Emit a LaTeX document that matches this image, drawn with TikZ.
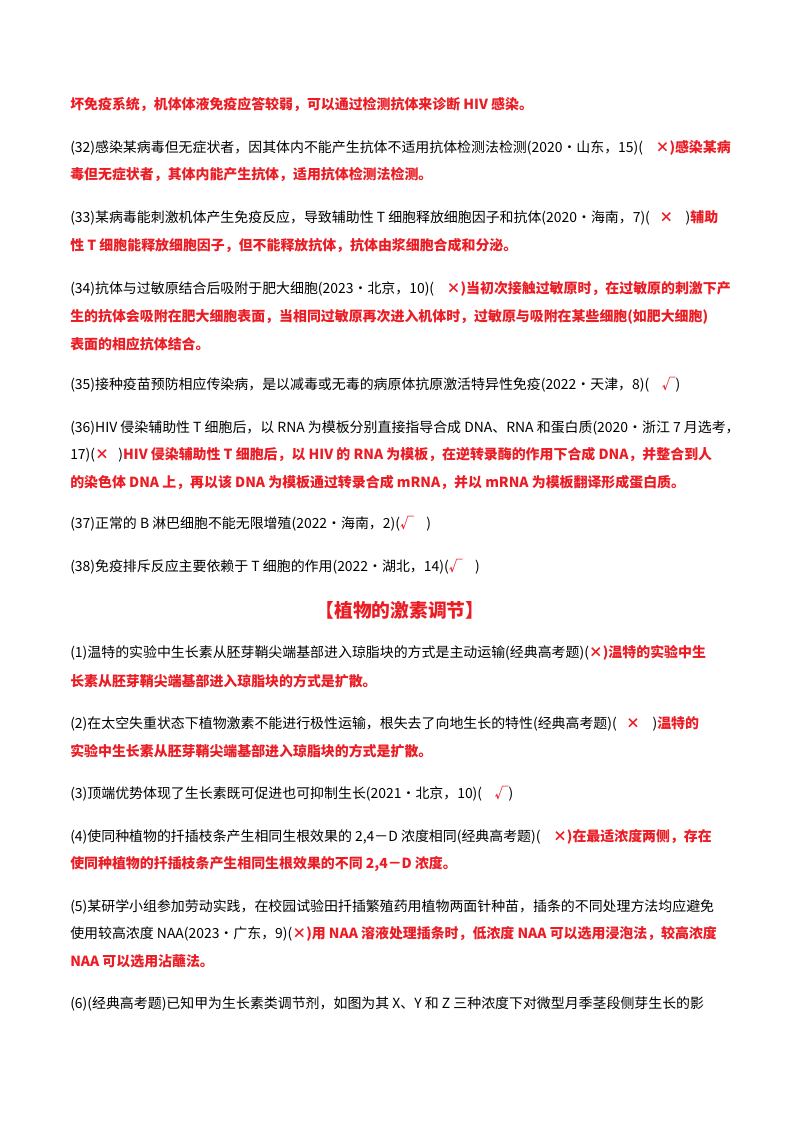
\documentclass[tikz,border=0pt]{standalone}
\usepackage{fontspec}
\setmainfont{Noto Sans CJK SC}
\definecolor{AnsRed}{RGB}{235,28,36}
\newcommand{\ans}[1]{{\color{AnsRed}\bfseries #1}}
\tikzset{
  line/.style={anchor=west, inner sep=0pt, font=\fontsize{10.4pt}{12pt}\selectfont},
  head/.style={anchor=center, inner sep=0pt, text=AnsRed, font=\fontsize{14pt}{16pt}\selectfont\bfseries}
}
\begin{document}
\begin{tikzpicture}[x=0.02625cm,y=-0.02625cm]
\useasboundingbox (0,0) rectangle (800,1132);

\node[line] (l1) at (70,105) {\ans{坏免疫系统，机体体液免疫应答较弱，可以通过检测抗体来诊断 HIV 感染。}};

\node[line] (l2) at (70,148) {(32)感染某病毒但无症状者，因其体内不能产生抗体不适用抗体检测法检测(2020·山东，15)(\ \ \ \ \ans{×)感染某病}};
\node[line] (l3) at (70,175) {\ans{毒但无症状者，其体内能产生抗体，适用抗体检测法检测。}};

\node[line] (l4) at (70,218) {(33)某病毒能刺激机体产生免疫反应，导致辅助性 T 细胞释放细胞因子和抗体(2020·海南，7)(\ \ \ \ans{×}\ \ \ \ )\ans{辅助}};
\node[line] (l5) at (70,246) {\ans{性 T 细胞能释放细胞因子，但不能释放抗体，抗体由浆细胞合成和分泌。}};

\node[line] (l6) at (70,289) {(34)抗体与过敏原结合后吸附于肥大细胞(2023·北京，10)(\ \ \ \ \ans{×)当初次接触过敏原时，在过敏原的刺激下产}};
\node[line] (l7) at (70,317) {\ans{生的抗体会吸附在肥大细胞表面，当相同过敏原再次进入机体时，过敏原与吸附在某些细胞(如肥大细胞)}};
\node[line] (l8) at (70,344) {\ans{表面的相应抗体结合。}};

\node[line] (l9) at (70,385) {(35)接种疫苗预防相应传染病，是以减毒或无毒的病原体抗原激活特异性免疫(2022·天津，8)(\ \ \ \ \ans{√})};

\node[line] (l10) at (70,428) {(36)HIV 侵染辅助性 T 细胞后，以 RNA 为模板分别直接指导合成 DNA、RNA 和蛋白质(2020·浙江 7 月选考，};
\node[line] (l11) at (70,455) {17)(\ans{×}\ \ \ )\ans{HIV 侵染辅助性 T 细胞后，以 HIV 的 RNA 为模板，在逆转录酶的作用下合成 DNA，并整合到人}};
\node[line] (l12) at (70,482) {\ans{的染色体 DNA 上，再以该 DNA 为模板通过转录合成 mRNA，并以 mRNA 为模板翻译形成蛋白质。}};

\node[line] (l13) at (70,524) {(37)正常的 B 淋巴细胞不能无限增殖(2022·海南，2)(\ans{√}\ \ \ \ )};
\node[line] (l14) at (70,567) {(38)免疫排斥反应主要依赖于 T 细胞的作用(2022·湖北，14)(\ans{√}\ \ \ \ )};

\node[head] (h1) at (400,610) {【植物的激素调节】};

\node[line] (l15) at (70,653) {(1)温特的实验中生长素从胚芽鞘尖端基部进入琼脂块的方式是主动运输(经典高考题)(\ans{×)温特的实验中生}};
\node[line] (l16) at (70,681) {\ans{长素从胚芽鞘尖端基部进入琼脂块的方式是扩散。}};

\node[line] (l17) at (70,724) {(2)在太空失重状态下植物激素不能进行极性运输，根失去了向地生长的特性(经典高考题)(\ \ \ \ans{×}\ \ \ \ )\ans{温特的}};
\node[line] (l18) at (70,751) {\ans{实验中生长素从胚芽鞘尖端基部进入琼脂块的方式是扩散。}};

\node[line] (l19) at (70,794) {(3)顶端优势体现了生长素既可促进也可抑制生长(2021·北京，10)(\ \ \ \ \ans{√})};

\node[line] (l20) at (70,837) {(4)使同种植物的扦插枝条产生相同生根效果的 2,4－D 浓度相同(经典高考题)(\ \ \ \ \ans{×)在最适浓度两侧，存在}};
\node[line] (l21) at (70,864) {\ans{使同种植物的扦插枝条产生相同生根效果的不同 2,4－D 浓度。}};

\node[line] (l22) at (70,907) {(5)某研学小组参加劳动实践，在校园试验田扦插繁殖药用植物两面针种苗，插条的不同处理方法均应避免};
\node[line] (l23) at (70,934) {使用较高浓度 NAA(2023·广东，9)(\ans{×)用 NAA 溶液处理插条时，低浓度 NAA 可以选用浸泡法，较高浓度}};
\node[line] (l24) at (70,961) {\ans{NAA 可以选用沾蘸法。}};

\node[line] (l25) at (70,1004) {(6)(经典高考题)已知甲为生长素类调节剂，如图为其 X、Y 和 Z 三种浓度下对微型月季茎段侧芽生长的影};

\end{tikzpicture}
\end{document}
